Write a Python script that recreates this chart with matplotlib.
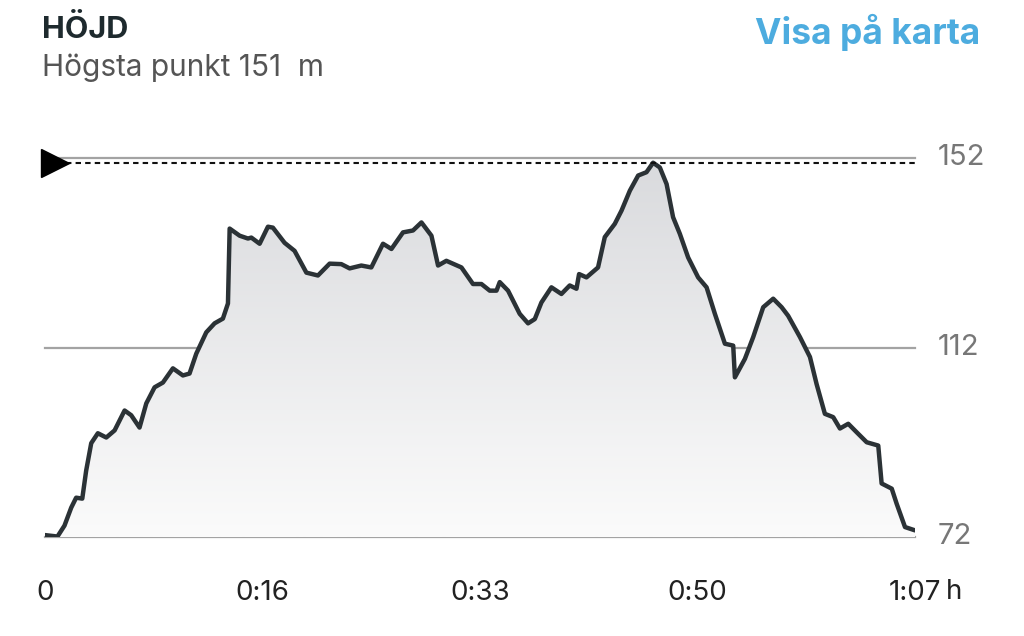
import matplotlib.pyplot as plt
import numpy as np
from matplotlib.colors import LinearSegmentedColormap

plt.rcParams['font.family'] = ['Inter', 'DejaVu Sans']

# time in minutes, elevation in metres
minutes = [0.0, 0.96, 1.50, 2.02, 2.40, 2.87, 3.17, 3.56, 4.07, 4.72, 5.36, 6.13, 6.64, 7.28,
           7.80, 8.44, 9.08, 9.85, 10.62, 11.13, 11.65, 12.42, 13.06, 13.70, 14.09, 14.22,
           14.99, 15.63, 15.89, 16.53, 17.17, 17.55, 18.45, 19.22, 20.13, 21.02, 21.92,
           22.82, 23.46, 24.36, 25.13, 26.03, 26.68, 27.57, 28.34, 28.99, 29.76, 30.27,
           30.91, 32.07, 32.96, 33.61, 34.25, 34.77, 35.02, 35.66, 36.56, 37.20, 37.72,
           38.23, 39.00, 39.77, 40.41, 40.93, 41.13, 41.70, 42.59, 43.11, 43.88, 44.40,
           45.04, 45.68, 46.32, 46.83, 47.35, 47.87, 48.37, 48.89, 49.53, 50.30, 50.95,
           51.59, 52.36, 53.00, 53.13, 53.90, 54.54, 55.31, 56.08, 56.73, 57.23, 58.14,
           58.91, 59.42, 60.06, 60.70, 61.22, 61.86, 62.51, 63.28, 64.17, 64.43, 65.21,
           65.59, 66.23, 67.0]
elevation = [72.4, 72.1, 74.4, 78.2, 80.3, 80.1, 86.0, 91.8, 93.9, 93.0, 94.5, 98.7, 97.7, 95.1,
             100.2, 103.6, 104.6, 107.6, 106.1, 106.5, 110.7, 115.2, 117.1, 118.1, 121.3, 137.1,
             135.6, 135.0, 135.2, 133.9, 137.5, 137.3, 134.1, 132.4, 127.8, 127.2, 129.7,
             129.6, 128.7, 129.3, 128.9, 133.9, 132.8, 136.3, 136.7, 138.4, 135.6, 129.3,
             130.3, 128.9, 125.4, 125.4, 124.0, 124.0, 125.8, 124.0, 119.1, 117.1, 118.0,
             121.5, 124.7, 123.3, 125.1, 124.4, 127.5, 126.8, 128.9, 135.3, 138.1, 140.9,
             145.1, 148.3, 149.0, 151.0, 150.0, 146.5, 139.5, 136.0, 131.0, 126.8, 124.7,
             119.1, 112.8, 112.4, 105.7, 109.6, 114.2, 120.5, 122.3, 120.5, 118.7, 114.2,
             110.0, 104.3, 98.0, 97.3, 94.9, 95.9, 94.1, 92.0, 91.3, 83.3, 82.2,
             79.0, 74.1, 73.4]

y_ticks = [72, 112, 152]
x_ticks = [0, 16.75, 33.5, 50.25, 67]
x_labels = ['0', '0:16', '0:33', '0:50', '1:07']
highest = 151

fig = plt.figure(figsize=(10.24, 6.36), dpi=100)
ax = fig.add_axes([45/1024, 99/636, 870/1024, 379/636])
ax.set_xlim(0, 67)
ax.set_ylim(72, 152)
ax.axis('off')

# grid lines + right labels
for v in y_ticks:
    ax.axhline(v, color='#a3a3a3', lw=1.6, zorder=1, clip_on=False)
    ax.annotate(str(v), (67, v), xytext=(16.5, 0), textcoords='offset points',
                ha='left', va='center', fontsize=21, color='#777777')

# gradient fill under the profile
cmap = LinearSegmentedColormap.from_list('g', ['#fbfbfb', '#d9dadd'])
grad = np.linspace(0, 1, 256).reshape(-1, 1)
img = ax.imshow(grad, extent=[0, 67, 72, 152], origin='lower', aspect='auto',
                cmap=cmap, zorder=2)
poly = ax.fill_between(minutes, elevation, 72, color='none', lw=0)
img.set_clip_path(poly.get_paths()[0], transform=ax.transData)

ax.plot(minutes, elevation, color='#2b3236', lw=3.2, zorder=4,
        solid_joinstyle='round', solid_capstyle='round')

# highest point marker line
ax.plot([1.6, 67], [highest, highest], color='#111111', lw=1.5,
        linestyle=(0, (2.6, 2.0)), zorder=5, clip_on=False)
ax.plot([0.75], [highest], marker='>', markersize=20, color='black',
        zorder=6, clip_on=False)

for x, lab in zip(x_ticks, x_labels):
    ax.text(x, 72 - 11.8, lab, ha='center', va='center', fontsize=20, color='#222222')
fig.text(946/1024, 1 - 592/636, 'h', ha='left', va='center', fontsize=20, color='#222222')

fig.text(42/1024, 1 - 29/636, 'HÖJD', ha='left', va='center', fontsize=22,
         fontweight='bold', color='#1e2a2e')
fig.text(42/1024, 1 - 68/636, 'Högsta punkt 151  m', ha='left', va='center',
         fontsize=21.5, color='#555555')
fig.text(980/1024, 1 - 32/636, 'Visa på karta', ha='right', va='center',
         fontsize=25.5, fontweight='bold', color='#4dacdf')

fig.savefig('out.png', dpi=100)
